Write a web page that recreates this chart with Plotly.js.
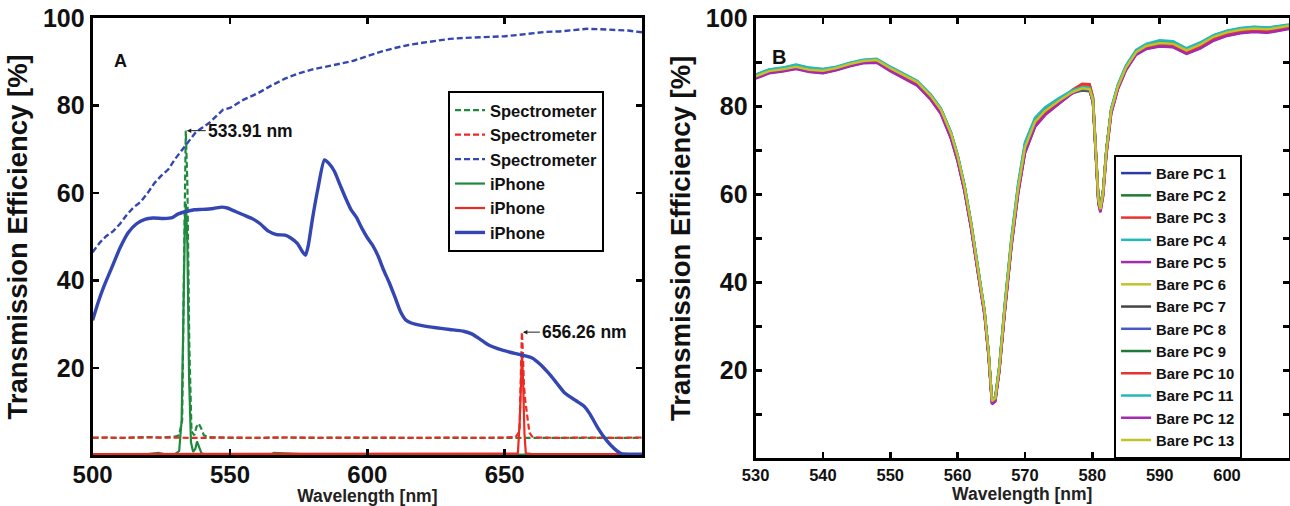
<!DOCTYPE html>
<html>
<head>
<meta charset="utf-8">
<script src="https://cdn.plot.ly/plotly-3.0.1.min.js"></script>
<style>html,body{margin:0;padding:0;background:#fff;}#chart{width:1290px;height:506px;}</style>
</head>
<body>
<div id="chart"></div>
<script>
// ---------- Panel A data ----------
const xTicksA = [500, 550, 600, 650];
const yTicksA = [20, 40, 60, 80, 100];

const specGreenX = [500, 505, 510, 515, 520, 525, 530, 531.5, 532.6, 533.3, 533.91, 534.5, 535.2, 536, 537, 537.8, 538.6, 539.5, 540.5, 542, 545, 550, 560, 570, 580, 590, 600, 610, 620, 630, 640, 650, 660, 670, 680, 690, 700];
const specGreenY = [4.0, 4.1, 4.0, 4.1, 4.2, 4.1, 4.3, 4.6, 8, 45, 74.3, 62, 25, 5.5, 4.6, 6.5, 7.3, 6.2, 4.6, 4.2, 4.1, 4.0, 4.0, 4.1, 4.0, 4.1, 4.0, 4.0, 4.1, 4.0, 4.0, 4.1, 4.0, 4.0, 4.1, 4.0, 4.0];

const specRedX = [500, 510, 520, 530, 540, 550, 560, 570, 580, 590, 600, 610, 620, 630, 640, 650, 654, 655.4, 655.9, 656.26, 656.6, 657, 657.5, 658.2, 659, 660, 662, 670, 680, 690, 700];
const specRedY = [4.1, 4.0, 4.1, 4.0, 4.0, 4.1, 4.0, 4.1, 4.0, 4.0, 4.1, 4.0, 4.0, 4.1, 4.0, 4.1, 4.2, 5.5, 18, 28.2, 24, 16, 12.5, 8.5, 5.2, 4.3, 4.1, 4.0, 4.1, 4.0, 4.1];

const specBlueX = [500, 502.5, 505, 507.5, 510, 512.5, 515, 517.5, 520, 522.5, 525, 527.5, 530, 532.5, 535, 537.5, 540, 542.5, 545, 547.5, 550, 555, 560, 565, 570, 575, 580, 585, 590, 595, 600, 605, 610, 615, 620, 625, 630, 635, 640, 645, 650, 655, 660, 665, 670, 675, 680, 685, 690, 695, 700];
const specBlueY = [46.5, 48.6, 50.2, 51.3, 53.0, 55.1, 56.8, 58.0, 60.0, 62.3, 64.0, 65.4, 67.8, 69.9, 71.8, 73.9, 75.0, 76.1, 77.6, 79.1, 79.5, 81.4, 82.8, 84.6, 86.2, 87.4, 88.3, 88.9, 89.6, 90.3, 91.4, 92.4, 93.2, 93.9, 94.4, 94.9, 95.3, 95.5, 95.6, 95.8, 95.9, 96.2, 96.6, 96.9, 97.0, 97.3, 97.6, 97.5, 97.4, 97.2, 96.8];

const iphGreenX = [500, 510, 520, 524, 526, 528, 530, 531.5, 532.4, 533.0, 533.6, 534.0, 534.5, 535.1, 535.8, 536.6, 537.4, 538.0, 538.7, 539.6, 541, 550, 565, 566, 580, 600, 620, 640, 650, 655, 656.3, 657.5, 660, 680, 700];
const iphGreenY = [0.2, 0.2, 0.3, 0.6, 0.3, 0.2, 0.3, 1.0, 8, 30, 54, 57.5, 48, 18, 3, 0.8, 1.5, 3.2, 1.8, 0.5, 0.2, 0.2, 0.2, 0.6, 0.2, 0.2, 0.3, 0.2, 0.2, 0.2, 0.3, 0.2, 0.2, 0.2, 0.2];

const iphRedX = [500, 520, 540, 560, 580, 600, 620, 640, 650, 654.8, 655.5, 656.0, 656.3, 656.7, 657.2, 657.7, 660, 680, 700];
const iphRedY = [0.3, 0.3, 0.3, 0.3, 0.3, 0.3, 0.3, 0.3, 0.3, 0.4, 8, 21, 23.5, 17, 5, 0.5, 0.3, 0.3, 0.3];

const iphBlueX = [500, 502, 504, 507, 510, 513, 516, 519, 522, 526, 529, 531, 534, 537, 540, 544, 547, 549, 552, 555, 558, 561, 564, 567, 570, 572, 574.5, 576.5, 577.5, 578.5, 580, 582, 584.4, 586, 588, 590, 592, 594, 596, 598, 600, 602, 604, 606, 608, 610, 612, 614, 616, 620, 625, 630, 635, 638, 641, 644, 648, 652, 656, 660, 663, 666, 669, 672, 676, 679, 681, 684, 687, 690, 692.5, 696, 700];
const iphBlueY = [30.9, 35, 38.5, 43, 47.5, 51, 53, 54, 54.3, 54.2, 54.4, 55.2, 55.8, 56.2, 56.3, 56.5, 56.8, 56.6, 55.8, 55, 54.2, 53, 51.3, 50.5, 50.4, 49.8, 48.5, 46.5, 45.8, 48, 54, 61, 67.6, 66.8, 65, 62, 59, 56.3, 54.5, 52, 49.8, 48, 45.5, 42.3, 39.5, 36.3, 33, 31, 30.3, 29.7, 29.2, 28.8, 28.4, 27.8, 26.6, 25.3, 24.3, 23.6, 23, 22.3, 20.8, 18.8, 16.5, 14.2, 12.5, 11.2, 9.5, 6.2, 3.5, 1.5, 0.4, 0.3, 0.3];

const namesA = ['Spectrometer', 'Spectrometer', 'Spectrometer', 'iPhone', 'iPhone', 'iPhone'];

// ---------- Panel B data ----------
const xTicksB = [530, 540, 550, 560, 570, 580, 590, 600, 610];
const yTicksB = [10, 20, 30, 40, 50, 60, 70, 80, 90, 100];
const yTickTextB = ['', '20', '', '40', '', '60', '', '80', '', '100'];

const xB = [530, 532, 534, 536, 538, 540, 542, 544, 546, 548, 550, 552, 554, 556, 557.5, 559, 560, 561, 562, 563, 564, 564.6, 565.1, 565.6, 566.2, 567, 568, 569, 570, 571.5, 573, 575, 577, 578.5, 579.6, 580.1, 580.5, 580.9, 581.2, 581.6, 582.1, 582.8, 583.8, 585, 586.5, 588, 590, 592, 594, 596, 598, 600, 602, 604, 606, 608, 609.2];

const pc1  = [86.5, 87.8, 88.3, 88.8, 88.1, 87.8, 88.5, 89.4, 90.1, 90.2, 88.3, 86.6, 85.0, 81.8, 78.6, 73.0, 67.8, 61.0, 52.5, 42.5, 32.8, 23.5, 12.8, 13.4, 20.2, 33.5, 48.5, 60.6, 69.6, 75.6, 78.3, 80.7, 83.0, 84.1, 84.0, 81.0, 69.2, 58.4, 56.5, 60.0, 69.5, 78.6, 84.2, 88.5, 92.0, 93.3, 93.9, 93.6, 92.2, 93.4, 95.2, 96.3, 96.9, 97.2, 97.0, 97.5, 97.9];
const pc2  = [87.0, 88.2, 88.5, 89.2, 88.4, 87.7, 88.4, 89.5, 90.4, 90.6, 88.8, 87.2, 85.6, 82.5, 79.4, 74.0, 68.8, 62.0, 53.4, 43.3, 33.4, 24.0, 13.2, 13.8, 20.8, 34.4, 49.5, 61.7, 70.8, 76.6, 79.1, 81.3, 83.2, 83.8, 83.6, 81.2, 69.8, 58.8, 57.0, 60.8, 70.3, 79.2, 84.7, 89.0, 92.5, 93.9, 94.6, 94.4, 92.9, 94.2, 96.0, 97.0, 97.6, 97.9, 97.8, 98.1, 98.4];
const pc3  = [86.6, 87.9, 88.3, 88.9, 88.2, 88.1, 88.6, 89.5, 90.2, 90.3, 88.5, 86.9, 85.3, 82.2, 79.0, 73.6, 68.4, 61.6, 53.0, 42.9, 33.0, 23.6, 12.9, 13.5, 20.4, 33.9, 49.0, 61.2, 70.3, 76.2, 78.7, 81.0, 83.6, 85.0, 84.9, 82.0, 70.4, 59.3, 57.2, 60.7, 70.1, 79.0, 84.4, 88.6, 92.1, 93.4, 93.9, 93.7, 92.4, 93.7, 95.5, 96.5, 97.0, 97.3, 97.1, 97.6, 97.9];
const pc4  = [87.2, 88.3, 88.7, 89.4, 88.7, 88.4, 88.9, 89.8, 90.5, 90.7, 88.9, 87.3, 85.7, 82.6, 79.5, 74.1, 68.9, 62.2, 53.6, 43.5, 33.5, 24.1, 13.3, 13.9, 21.0, 34.8, 50.0, 62.3, 71.5, 77.2, 79.6, 81.6, 83.5, 84.3, 84.1, 81.6, 70.1, 59.1, 56.9, 60.6, 70.2, 79.3, 84.8, 89.1, 92.6, 94.0, 94.8, 94.6, 93.0, 94.3, 96.1, 97.1, 97.7, 98.0, 97.8, 98.2, 98.5];
const pc5  = [86.4, 87.6, 88.0, 88.6, 87.9, 87.6, 88.3, 89.2, 89.9, 90.0, 88.1, 86.4, 84.8, 81.6, 78.4, 72.8, 67.6, 60.9, 52.4, 42.4, 32.6, 23.2, 12.5, 13.1, 19.9, 33.2, 48.3, 60.4, 69.5, 75.5, 78.2, 80.6, 83.0, 84.0, 83.9, 80.8, 69.0, 58.1, 56.1, 59.7, 69.2, 78.4, 84.0, 88.3, 91.8, 93.1, 93.7, 93.5, 92.0, 93.2, 95.0, 96.1, 96.7, 97.0, 96.8, 97.3, 97.7];
const pc6  = [86.9, 88.1, 88.5, 89.1, 88.4, 88.1, 88.8, 89.7, 90.4, 90.5, 88.7, 87.1, 85.5, 82.4, 79.3, 73.9, 68.7, 61.9, 53.3, 43.2, 33.3, 23.9, 13.1, 13.7, 20.7, 34.3, 49.4, 61.6, 70.7, 76.5, 79.0, 81.2, 83.3, 84.2, 84.0, 81.4, 69.9, 58.9, 56.7, 60.4, 70.0, 79.1, 84.6, 88.9, 92.4, 93.8, 94.5, 94.3, 92.8, 94.1, 95.9, 96.9, 97.4, 97.7, 97.5, 98.0, 98.2];
const pc7  = [86.7, 87.9, 88.4, 89.0, 88.3, 88.0, 88.6, 89.6, 90.3, 90.4, 88.6, 87.0, 85.4, 82.3, 79.2, 73.8, 68.6, 61.8, 53.2, 43.1, 33.2, 23.8, 13.0, 13.6, 20.5, 34.1, 49.2, 61.4, 70.5, 76.4, 78.9, 81.2, 83.3, 84.3, 84.2, 81.5, 70.0, 59.0, 56.8, 60.5, 70.0, 79.0, 84.5, 88.8, 92.3, 93.7, 94.3, 94.1, 92.6, 94.0, 95.8, 96.8, 97.3, 97.6, 97.5, 97.9, 98.2];
const pc8  = [86.6, 87.8, 88.2, 88.9, 88.2, 87.9, 88.5, 89.5, 90.2, 90.3, 88.4, 86.8, 85.2, 82.0, 78.9, 73.4, 68.2, 61.4, 52.8, 42.7, 32.9, 23.5, 12.7, 13.3, 20.1, 33.7, 48.8, 61.0, 70.0, 76.0, 78.6, 80.9, 83.1, 84.1, 84.0, 81.1, 69.5, 58.6, 56.6, 60.2, 69.7, 78.8, 84.3, 88.6, 92.1, 93.5, 94.1, 93.9, 92.5, 93.8, 95.6, 96.6, 97.2, 97.5, 97.3, 97.8, 98.1];
const pc9  = [87.1, 88.2, 88.6, 89.3, 88.5, 88.2, 88.8, 89.7, 90.4, 90.6, 88.8, 87.2, 85.6, 82.5, 79.4, 74.0, 68.8, 62.1, 53.5, 43.4, 33.4, 24.0, 13.2, 13.8, 20.9, 34.6, 49.7, 61.9, 71.0, 76.8, 79.2, 81.4, 83.0, 83.6, 83.4, 81.0, 69.7, 58.7, 56.9, 60.7, 70.2, 79.2, 84.7, 89.0, 92.5, 93.9, 94.6, 94.5, 93.0, 94.2, 96.0, 97.0, 97.5, 97.8, 97.7, 98.1, 98.4];
const pc10 = [86.5, 87.7, 88.2, 88.8, 88.1, 88.0, 88.5, 89.4, 90.1, 90.2, 88.4, 86.8, 85.2, 82.1, 78.9, 73.5, 68.3, 61.5, 52.9, 42.8, 32.9, 23.5, 12.8, 13.4, 20.3, 33.8, 48.9, 61.1, 70.2, 76.1, 78.6, 81.0, 83.7, 85.1, 85.0, 82.1, 70.6, 59.5, 57.3, 60.9, 70.3, 79.1, 84.4, 88.5, 92.0, 93.3, 93.8, 93.6, 92.3, 93.6, 95.4, 96.4, 96.9, 97.2, 97.0, 97.5, 97.8];
const pc11 = [87.2, 88.4, 88.8, 89.5, 88.8, 88.5, 89.0, 89.9, 90.6, 90.8, 89.0, 87.4, 85.8, 82.7, 79.6, 74.2, 69.0, 62.3, 53.7, 43.6, 33.6, 24.2, 13.4, 14.0, 21.1, 35.0, 50.3, 62.6, 71.8, 77.4, 79.8, 81.8, 83.6, 84.4, 84.2, 81.7, 70.3, 59.2, 57.0, 60.8, 70.4, 79.5, 85.0, 89.3, 92.8, 94.2, 95.0, 94.8, 93.2, 94.5, 96.2, 97.2, 97.8, 98.1, 97.9, 98.3, 98.6];
const pc12 = [86.3, 87.5, 87.9, 88.5, 87.8, 87.5, 88.2, 89.1, 89.8, 89.9, 88.0, 86.3, 84.7, 81.5, 78.3, 72.7, 67.5, 60.8, 52.2, 42.2, 32.4, 23.0, 12.3, 12.9, 19.7, 33.0, 48.1, 60.2, 69.3, 75.3, 78.0, 80.5, 82.9, 83.9, 83.8, 80.7, 68.8, 57.9, 55.9, 59.5, 69.0, 78.2, 83.9, 88.2, 91.7, 93.0, 93.6, 93.4, 91.9, 93.1, 94.9, 96.0, 96.6, 96.9, 96.7, 97.2, 97.6];
const pc13 = [86.8, 88.0, 88.4, 89.0, 88.3, 88.1, 88.7, 89.6, 90.3, 90.5, 88.7, 87.1, 85.5, 82.4, 79.3, 73.9, 68.7, 61.9, 53.3, 43.2, 33.3, 23.9, 13.0, 13.6, 20.6, 34.2, 49.3, 61.5, 70.6, 76.5, 79.0, 81.2, 83.2, 84.1, 83.9, 81.3, 69.8, 58.8, 56.6, 60.3, 69.9, 79.0, 84.5, 88.8, 92.3, 93.7, 94.4, 94.2, 92.7, 94.0, 95.8, 96.8, 97.4, 97.7, 97.5, 98.0, 98.3];

const seriesB = [pc1, pc2, pc3, pc4, pc5, pc6, pc7, pc8, pc9, pc10, pc11, pc12, pc13];
const namesB = ['Bare PC 1', 'Bare PC 2', 'Bare PC 3', 'Bare PC 4', 'Bare PC 5', 'Bare PC 6', 'Bare PC 7', 'Bare PC 8', 'Bare PC 9', 'Bare PC 10', 'Bare PC 11', 'Bare PC 12', 'Bare PC 13'];
const colorsB = ['#2a3aa6', '#1f7a3a', '#e8342c', '#22b8bc', '#a62aae', '#c2c22a', '#454545', '#4a58c6', '#1f7a3a', '#e8342c', '#22b8bc', '#a62aae', '#c2c22a'];

// ---------- build ----------
const FONT = 'Liberation Sans, Arial, sans-serif';
const GREEN = '#1f8a3e', RED = '#ec2a22', BLUE = '#3446b2';
const DASH = '6px,3px';

const traces = [
  {x: specGreenX, y: specGreenY, name: namesA[0], mode: 'lines', line: {color: GREEN, width: 2.2, dash: DASH}, xaxis: 'x', yaxis: 'y', legend: 'legend'},
  {x: specRedX, y: specRedY, name: namesA[1], mode: 'lines', line: {color: RED, width: 2.2, dash: DASH}, xaxis: 'x', yaxis: 'y', legend: 'legend'},
  {x: specBlueX, y: specBlueY, name: namesA[2], mode: 'lines', line: {color: BLUE, width: 2.4, dash: DASH}, xaxis: 'x', yaxis: 'y', legend: 'legend'},
  {x: iphGreenX, y: iphGreenY, name: namesA[3], mode: 'lines', line: {color: GREEN, width: 2.2}, xaxis: 'x', yaxis: 'y', legend: 'legend'},
  {x: iphRedX, y: iphRedY, name: namesA[4], mode: 'lines', line: {color: RED, width: 2.2}, xaxis: 'x', yaxis: 'y', legend: 'legend'},
  {x: iphBlueX, y: iphBlueY, name: namesA[5], mode: 'lines', line: {color: BLUE, width: 3.4, shape: 'spline', smoothing: 0.6}, xaxis: 'x', yaxis: 'y', legend: 'legend'}
];
seriesB.forEach((s, i) => {
  traces.push({x: xB, y: s, name: namesB[i], mode: 'lines', line: {color: colorsB[i], width: 2.5}, xaxis: 'x2', yaxis: 'y2', legend: 'legend2'});
});

const axisCommon = {
  ticks: 'inside', ticklen: 6, tickwidth: 2.5, tickcolor: 'black',
  showline: true, linewidth: 3, linecolor: 'black', mirror: 'ticks',
  showgrid: false, zeroline: false, automargin: false
};
const bigTick = {family: FONT, size: 25, color: '#111', weight: 'bold'};
const yTitleFont = {family: FONT, size: 27.5, color: '#111', weight: 'bold'};
const xTitleFont = {family: FONT, size: 17.5, color: '#222', weight: 'bold'};

const layout = {
  width: 1290, height: 506,
  margin: {l: 0, r: 0, t: 0, b: 0},
  paper_bgcolor: 'white', plot_bgcolor: 'white',
  showlegend: true,
  xaxis: Object.assign({}, axisCommon, {
    domain: [0.0718, 0.4977], range: [500, 700], anchor: 'y',
    tickvals: xTicksA, tickfont: {family: FONT, size: 24, color: '#111', weight: 'bold'}, ticklabelstandoff: -4,
    title: {text: 'Wavelength [nm]', font: xTitleFont, standoff: 9}
  }),
  yaxis: Object.assign({}, axisCommon, {
    domain: [0.1000, 0.9638], range: [0, 100], anchor: 'x',
    tickvals: yTicksA, tickfont: bigTick,
    title: {text: 'Transmission Efficiency [%]', font: yTitleFont, standoff: 8}
  }),
  xaxis2: Object.assign({}, axisCommon, {
    domain: [0.5857, 0.9992], range: [530, 609.2], anchor: 'y2',
    tickvals: xTicksB, tickfont: {family: FONT, size: 16.5, color: '#111', weight: 'bold'},
    title: {text: 'Wavelength [nm]', font: xTitleFont, standoff: 2}
  }),
  yaxis2: Object.assign({}, axisCommon, {
    domain: [0.0943, 0.9638], range: [0, 100], anchor: 'x2',
    tickvals: yTicksB, ticktext: yTickTextB, tickfont: bigTick,
    title: {text: 'Transmission Efficiency [%]', font: yTitleFont, standoff: 8}
  }),
  legend: {
    x: 0.3473, y: 0.8202, xanchor: 'left', yanchor: 'top',
    bgcolor: 'white', bordercolor: 'black', borderwidth: 2,
    font: {family: FONT, size: 16.5, color: '#111', weight: 'bold'},
    tracegroupgap: 0, itemwidth: 30
  },
  legend2: {
    x: 0.8636, y: 0.6937, xanchor: 'left', yanchor: 'top',
    bgcolor: 'white', bordercolor: 'black', borderwidth: 2,
    font: {family: FONT, size: 14.8, color: '#111', weight: 'bold'},
    tracegroupgap: 0, itemwidth: 30
  },
  annotations: [
    {xref: 'paper', yref: 'paper', x: 0.0868, y: 0.9032, text: 'A', showarrow: false,
     font: {family: FONT, size: 18, color: '#111', weight: 'bold'}},
    {xref: 'paper', yref: 'paper', x: 0.6039, y: 0.913, text: 'B', showarrow: false,
     font: {family: FONT, size: 20, color: '#111', weight: 'bold'}},
    {xref: 'x', yref: 'y', x: 533.91, y: 74.3, text: '533.91 nm', showarrow: true,
     ax: 20, ay: 0, xanchor: 'left', arrowhead: 2, arrowsize: 0.9, arrowwidth: 1, arrowcolor: '#222', standoff: 1,
     font: {family: FONT, size: 17.5, color: '#111', weight: 'bold'}},
    {xref: 'x', yref: 'y', x: 656.26, y: 28.2, text: '656.26 nm', showarrow: true,
     ax: 18, ay: 0, xanchor: 'left', arrowhead: 2, arrowsize: 0.9, arrowwidth: 1, arrowcolor: '#222', standoff: 1,
     font: {family: FONT, size: 17.5, color: '#111', weight: 'bold'}}
  ]
};

Plotly.newPlot('chart', traces, layout, {displayModeBar: false, staticPlot: true});
</script>
</body>
</html>
